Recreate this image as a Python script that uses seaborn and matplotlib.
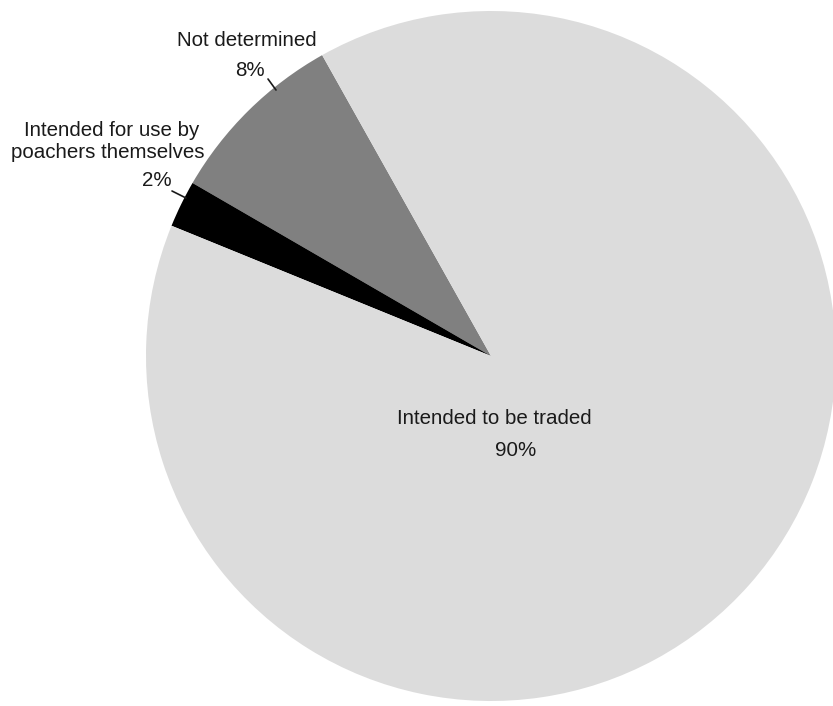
import matplotlib
matplotlib.use("Agg")
import matplotlib.pyplot as plt
import seaborn as sns

categories = ["Not determined", "Intended for use by poachers themselves", "Intended to be traded"]
values = [8.5, 2.2, 89.3]
pct_labels = ["8%", "2%", "90%"]
colors = ["#808080", "#000000", "#dcdcdc"]

sns.set_theme(style="white")
plt.rcParams['font.family'] = ['Liberation Sans', 'DejaVu Sans']

W, H = 833, 706
fig = plt.figure(figsize=(W / 100, H / 100), dpi=100)
ax = fig.add_axes([0, 0, 1, 1])

cx, cy, r = 491, H - 356, 345
ax.pie(values, colors=colors, startangle=119.3, counterclock=True,
       center=(cx, cy), radius=r, wedgeprops=dict(linewidth=0))
ax.set_xlim(0, W)
ax.set_ylim(0, H)
ax.set_aspect('equal')
ax.axis('off')

fs = 14.8
tc = "#1a1a1a"

def P(x, y):
    return (x, H - y)

# Not determined
ax.text(*P(247, 40), categories[0], ha='center', va='center', fontsize=fs, color=tc)
ax.text(*P(250, 70), pct_labels[0], ha='center', va='center', fontsize=fs, color=tc)
ax.plot(*zip(P(268, 79), P(276, 90)), color=tc, lw=1.2)

# Poachers themselves
ax.text(*P(112, 130), "Intended for use by", ha='center', va='center', fontsize=fs, color=tc)
ax.text(*P(108, 152), "poachers themselves", ha='center', va='center', fontsize=fs, color=tc)
ax.text(*P(157, 180), pct_labels[1], ha='center', va='center', fontsize=fs, color=tc)
ax.plot(*zip(P(172, 191), P(186, 198)), color=tc, lw=1.2)

# Traded
ax.text(*P(494, 418), categories[2], ha='center', va='center', fontsize=fs, color=tc)
ax.text(*P(516, 450), pct_labels[2], ha='center', va='center', fontsize=fs, color=tc)

fig.savefig("out.png", dpi=100)
